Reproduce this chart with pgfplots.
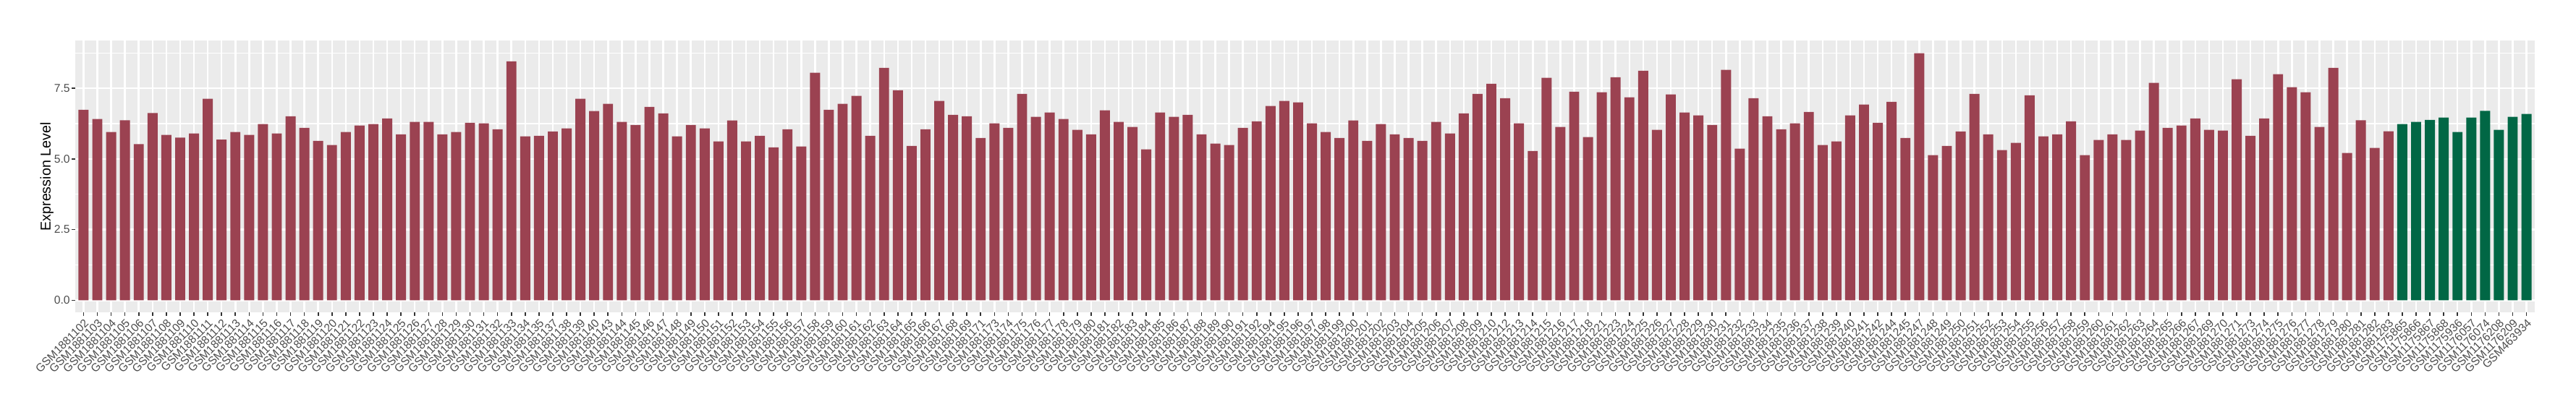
\documentclass[border=0pt]{standalone}
\usepackage{pgfplots}
\pgfplotsset{compat=1.18}
\usepackage{fontspec}
\setmainfont{Liberation Sans}
\definecolor{barred}{RGB}{155,66,81}
\definecolor{bargreen}{RGB}{1,103,69}
\definecolor{panelbg}{RGB}{235,235,235}
\definecolor{axtext}{RGB}{77,77,77}
\definecolor{axtick}{RGB}{51,51,51}
\begin{document}
\begin{tikzpicture}
\path[use as bounding box] (0,0) rectangle (1780pt,290pt);
\begin{axis}[
  at={(52pt,73.8pt)}, anchor=south west,
  scale only axis, width=1699.5pt, height=187.95pt,
  xmin=-0.6, xmax=177.6, ymin=-0.437, ymax=9.177,
  enlargelimits=false,
  axis lines*=left, axis line style={draw=none},
  axis background/.style={fill=panelbg},
  ybar, bar width=0.73, /pgf/bar shift=0pt,
  xtick={0,...,177},
  ytick={0,2.5,5,7.5},
  yticklabels={0.0,2.5,5.0,7.5},
  minor ytick={1.25,3.75,6.25,8.75},
  xmajorgrids, ymajorgrids, yminorgrids,
  major grid style={white, line width=1.25pt},
  minor grid style={white, line width=0.63pt},
  tick align=outside,
  major tick length=2.45pt, minor tick length=0pt,
  tick style={axtick, line width=0.8pt},
  tick label style={font=\fontsize{7.85}{9}\selectfont, text=axtext},
  yticklabel style={inner sep=1pt},
  xticklabel style={rotate=45, anchor=north east, inner sep=1pt},
  ylabel={Expression Level},
  ylabel style={font=\fontsize{9.85}{11}\selectfont, at={(axis description cs:-0.0115,0.5)}, anchor=center},
  xticklabels={GSM1881102,GSM1881103,GSM1881104,GSM1881105,GSM1881106,GSM1881107,GSM1881108,GSM1881109,GSM1881110,GSM1881111,GSM1881112,GSM1881113,GSM1881114,GSM1881115,GSM1881116,GSM1881117,GSM1881118,GSM1881119,GSM1881120,GSM1881121,GSM1881122,GSM1881123,GSM1881124,GSM1881125,GSM1881126,GSM1881127,GSM1881128,GSM1881129,GSM1881130,GSM1881131,GSM1881132,GSM1881133,GSM1881134,GSM1881135,GSM1881137,GSM1881138,GSM1881139,GSM1881140,GSM1881143,GSM1881144,GSM1881145,GSM1881146,GSM1881147,GSM1881148,GSM1881149,GSM1881150,GSM1881151,GSM1881152,GSM1881153,GSM1881154,GSM1881155,GSM1881156,GSM1881157,GSM1881158,GSM1881159,GSM1881160,GSM1881161,GSM1881162,GSM1881163,GSM1881164,GSM1881165,GSM1881166,GSM1881167,GSM1881168,GSM1881169,GSM1881171,GSM1881173,GSM1881174,GSM1881175,GSM1881176,GSM1881177,GSM1881178,GSM1881179,GSM1881180,GSM1881181,GSM1881182,GSM1881183,GSM1881184,GSM1881185,GSM1881186,GSM1881187,GSM1881188,GSM1881189,GSM1881190,GSM1881191,GSM1881192,GSM1881194,GSM1881195,GSM1881196,GSM1881197,GSM1881198,GSM1881199,GSM1881200,GSM1881201,GSM1881202,GSM1881203,GSM1881204,GSM1881205,GSM1881206,GSM1881207,GSM1881208,GSM1881209,GSM1881210,GSM1881212,GSM1881213,GSM1881214,GSM1881215,GSM1881216,GSM1881217,GSM1881218,GSM1881221,GSM1881223,GSM1881224,GSM1881225,GSM1881226,GSM1881227,GSM1881228,GSM1881229,GSM1881230,GSM1881231,GSM1881232,GSM1881233,GSM1881234,GSM1881235,GSM1881236,GSM1881237,GSM1881238,GSM1881239,GSM1881240,GSM1881241,GSM1881242,GSM1881244,GSM1881245,GSM1881247,GSM1881248,GSM1881249,GSM1881250,GSM1881251,GSM1881252,GSM1881253,GSM1881254,GSM1881255,GSM1881256,GSM1881257,GSM1881258,GSM1881259,GSM1881260,GSM1881261,GSM1881262,GSM1881263,GSM1881264,GSM1881265,GSM1881266,GSM1881267,GSM1881269,GSM1881270,GSM1881271,GSM1881273,GSM1881274,GSM1881275,GSM1881276,GSM1881277,GSM1881278,GSM1881279,GSM1881280,GSM1881281,GSM1881282,GSM1881283,GSM1175865,GSM1175866,GSM1175867,GSM1175868,GSM1175936,GSM1176057,GSM1176074,GSM1176208,GSM1176209,GSM463934},
]
\addplot[fill=barred, draw=none] coordinates {
(0,6.74) (1,6.41) (2,5.95) (3,6.37) (4,5.52) (5,6.62) (6,5.85) (7,5.75) (8,5.90) (9,7.13)
(10,5.68) (11,5.95) (12,5.85) (13,6.23) (14,5.90) (15,6.51) (16,6.10) (17,5.64) (18,5.49) (19,5.95)
(20,6.18) (21,6.23) (22,6.43) (23,5.87) (24,6.31) (25,6.31) (26,5.87) (27,5.95) (28,6.28) (29,6.26)
(30,6.05) (31,8.45) (32,5.80) (33,5.82) (34,5.97) (35,6.08) (36,7.13) (37,6.69) (38,6.95) (39,6.31)
(40,6.20) (41,6.84) (42,6.61) (43,5.80) (44,6.20) (45,6.08) (46,5.62) (47,6.36) (48,5.62) (49,5.82)
(50,5.41) (51,6.05) (52,5.44) (53,8.05) (54,6.74) (55,6.95) (56,7.23) (57,5.82) (58,8.22) (59,7.43)
(60,5.46) (61,6.05) (62,7.05) (63,6.56) (64,6.51) (65,5.74) (66,6.26) (67,6.10) (68,7.30) (69,6.49)
(70,6.64) (71,6.41) (72,6.03) (73,5.87) (74,6.72) (75,6.31) (76,6.13) (77,5.34) (78,6.64) (79,6.49)
(80,6.56) (81,5.87) (82,5.54) (83,5.49) (84,6.10) (85,6.33) (86,6.87) (87,7.05) (88,7.00) (89,6.26)
(90,5.95) (91,5.74) (92,6.36) (93,5.64) (94,6.23) (95,5.87) (96,5.74) (97,5.64) (98,6.31) (99,5.90)
(100,6.61) (101,7.30) (102,7.66) (103,7.15) (104,6.26) (105,5.28) (106,7.87) (107,6.13) (108,7.38) (109,5.77)
(110,7.36) (111,7.89) (112,7.18) (113,8.12) (114,6.03) (115,7.28) (116,6.64) (117,6.54) (118,6.20) (119,8.15)
(120,5.36) (121,7.15) (122,6.51) (123,6.05) (124,6.26) (125,6.66) (126,5.49) (127,5.62) (128,6.54) (129,6.92)
(130,6.28) (131,7.02) (132,5.74) (133,8.74) (134,5.13) (135,5.46) (136,5.97) (137,7.30) (138,5.87) (139,5.31)
(140,5.57) (141,7.25) (142,5.80) (143,5.87) (144,6.33) (145,5.13) (146,5.67) (147,5.87) (148,5.67) (149,6.00)
(150,7.69) (151,6.10) (152,6.18) (153,6.43) (154,6.03) (155,6.00) (156,7.82) (157,5.82) (158,6.43) (159,8.00)
(160,7.54) (161,7.36) (162,6.13) (163,8.22) (164,5.21) (165,6.37) (166,5.39) (167,5.98)
};
\addplot[fill=bargreen, draw=none] coordinates {
(168,6.23) (169,6.31) (170,6.38) (171,6.46) (172,5.95) (173,6.46) (174,6.70) (175,6.03) (176,6.49) (177,6.59)
};
\end{axis}
\end{tikzpicture}
\end{document}
